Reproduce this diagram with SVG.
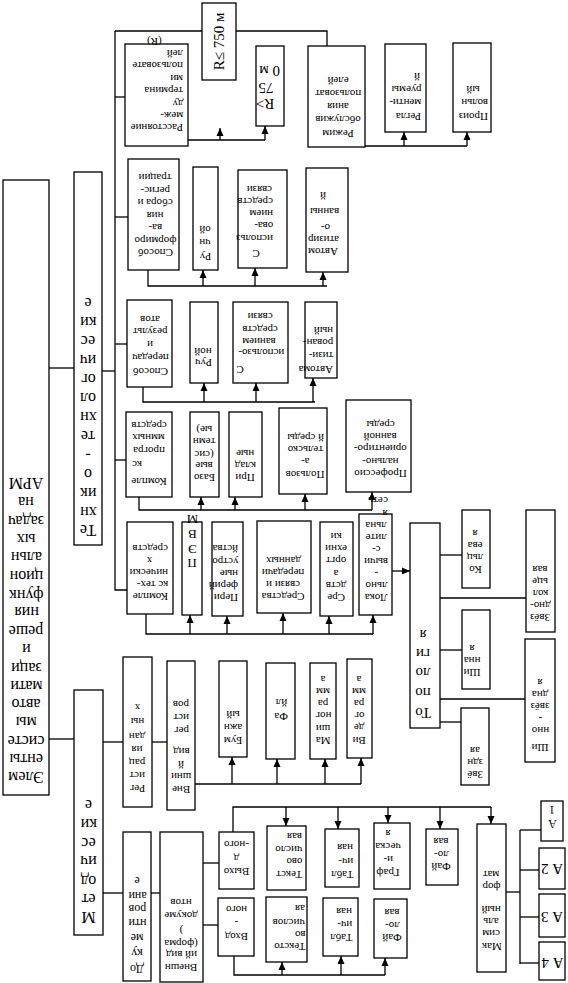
<svg xmlns="http://www.w3.org/2000/svg" width="568" height="983" viewBox="0 0 568 983">
<style>
rect{fill:#fff;stroke:#000;stroke-width:1.3}
.l path{fill:none;stroke:#000;stroke-width:1.3}
.l path.ar{marker-end:url(#a)}
text{font-family:"Liberation Serif","Times New Roman",serif;font-size:11px;fill:#000}
.t{transform-box:fill-box;transform-origin:50% 50%;transform:rotate(180deg)}
.c{text-anchor:middle}
.e{text-anchor:end}
.L{font-size:16px}
.M{font-size:15px}
.D{font-size:12px}
.P{font-size:13px}
</style>
<defs>
<marker id="a" markerWidth="8" markerHeight="8" refX="8" refY="4" orient="auto" markerUnits="userSpaceOnUse"><path d="M0,0.5 L8,4 L0,7.5 z" fill="#000"/></marker>
</defs>
<g id="connectors" class="l">
<path d="M49 368H74"/>
<path d="M49 739H74"/>
<path d="M102 371H115"/>
<path d="M115 31V590H127"/>
<path d="M115 31H202"/>
<path d="M236 31H327V46"/>
<path d="M115 97H125"/>
<path d="M188 140H265"/>
<path class="ar" d="M220 140V128"/>
<path class="ar" d="M265 140V126"/>
<path d="M365 146H467"/>
<path class="ar" d="M404 146V132"/>
<path class="ar" d="M467 146V132"/>
<path d="M115 217H128"/>
<path d="M148 270V286H327"/>
<path class="ar" d="M203 286V270"/>
<path class="ar" d="M255 286V268"/>
<path class="ar" d="M323 286V272"/>
<path d="M115 344H127"/>
<path d="M143 387V402H315"/>
<path class="ar" d="M204 402V383"/>
<path class="ar" d="M256 402V383"/>
<path class="ar" d="M313 402V378"/>
<path d="M115 460H126"/>
<path d="M139 497V510H372"/>
<path class="ar" d="M201 510V497"/>
<path class="ar" d="M235 510V497"/>
<path class="ar" d="M305 510V494"/>
<path class="ar" d="M372 510V492"/>
<path d="M146 614V634H373"/>
<path class="ar" d="M190 634V615"/>
<path class="ar" d="M227 634V616"/>
<path class="ar" d="M283 634V613"/>
<path class="ar" d="M329 634V616"/>
<path class="ar" d="M373 634V615"/>
<path class="ar" d="M392 571H410"/>
<path d="M440 555H462"/>
<path d="M440 598H526"/>
<path d="M440 650H462"/>
<path d="M440 699H525"/>
<path d="M440 722H461"/>
<path d="M103 742H123"/>
<path d="M152 742H167"/>
<path d="M195 784H361"/>
<path class="ar" d="M232 784V757"/>
<path class="ar" d="M277 784V759"/>
<path class="ar" d="M325 784V759"/>
<path class="ar" d="M361 784V758"/>
<path d="M103 893H123"/>
<path d="M151 893H160"/>
<path d="M203 863H219"/>
<path d="M203 925H218"/>
<path d="M233 832V807H491"/>
<path class="ar" d="M286 807V826"/>
<path class="ar" d="M338 807V829"/>
<path class="ar" d="M388 807V823"/>
<path class="ar" d="M440 807V829"/>
<path class="ar" d="M491 807V824"/>
<path d="M234 956V975H385"/>
<path class="ar" d="M282 975V962"/>
<path class="ar" d="M341 975V956"/>
<path class="ar" d="M385 975V958"/>
<path d="M506 892H520"/>
<path d="M520 830V964"/>
<path d="M520 830H541"/>
<path d="M520 870H539"/>
<path d="M520 917H539"/>
<path d="M520 963H539"/>
</g>
<g id="n-root"><rect x="3" y="180" width="46" height="615"/>
<text class="t c L" x="26" y="783.4">Элем</text><text class="t c L" x="26" y="765">енты</text><text class="t c L" x="26" y="746.7">систе</text><text class="t c L" x="26" y="728.3">мы</text><text class="t c L" x="26" y="709.9">авто</text><text class="t c L" x="26" y="691.5">мати</text><text class="t c L" x="26" y="673.2">заци</text><text class="t c L" x="26" y="654.8">и</text><text class="t c L" x="26" y="636.4">реше</text><text class="t c L" x="26" y="618">ния</text><text class="t c L" x="26" y="599.7">функ</text><text class="t c L" x="26" y="581.3">цион</text><text class="t c L" x="26" y="562.9">альн</text><text class="t c L" x="26" y="544.5">ых</text><text class="t c L" x="26" y="526.2">задач</text><text class="t c L" x="26" y="507.8">на</text><text class="t c L" x="26" y="489.4">АРМ</text>
</g>
<g id="n-tech"><rect x="74" y="172" width="28" height="373"/>
<text class="t c L" x="88" y="536.4">Те</text><text class="t c L" x="88" y="517.5">хн</text><text class="t c L" x="88" y="498.6">ик</text><text class="t c L" x="88" y="479.7">о</text><text class="t c L" x="88" y="460.7">-</text><text class="t c L" x="88" y="441.8">те</text><text class="t c L" x="88" y="422.9">хн</text><text class="t c L" x="88" y="404">ол</text><text class="t c L" x="88" y="385.1">ог</text><text class="t c L" x="88" y="366.2">ич</text><text class="t c L" x="88" y="347.2">ес</text><text class="t c L" x="88" y="328.3">ки</text><text class="t c L" x="88" y="309.4">е</text>
</g>
<g id="n-metod"><rect x="74" y="690" width="29" height="245"/>
<text class="t c L" x="88.5" y="923.4">М</text><text class="t c L" x="88.5" y="904.7">ет</text><text class="t c L" x="88.5" y="886.1">од</text><text class="t c L" x="88.5" y="867.4">ич</text><text class="t c L" x="88.5" y="848.7">ес</text><text class="t c L" x="88.5" y="830.1">ки</text><text class="t c L" x="88.5" y="811.4">е</text>
</g>
<g id="n-rasst"><rect x="125" y="44" width="63" height="102"/>
<text class="t e" x="183" y="132.4">Расстояние</text><text class="t e" x="183" y="120">меж-</text><text class="t e" x="183" y="107.5">ду</text><text class="t e" x="183" y="95.1">термина</text><text class="t e" x="183" y="82.7">ми</text><text class="t e" x="183" y="70.3">пользовате</text><text class="t e" x="183" y="57.8">лей</text><text class="t c" x="154" y="45.4">(R)</text>
</g>
<g id="n-r750"><rect x="202" y="3" width="34" height="77"/>
<text class="c M" transform="translate(224,41.5) rotate(-90)">R≤ 750 м</text>
</g>
<g id="n-rgt750"><rect x="256" y="46" width="28" height="80"/>
<text class="t c M" x="265" y="109">R&gt;</text><text class="t c M" x="266" y="93">75</text><text class="t c M" x="269" y="76">0 м</text>
</g>
<g id="n-rezhim"><rect x="308" y="46" width="57" height="101"/>
<text class="t c" x="338" y="138.4">Режим</text><text class="t c" x="338" y="124.4">обслужив</text><text class="t c" x="338" y="111.4">ания</text><text class="t c" x="338" y="98.4">пользоват</text><text class="t c" x="338" y="85.4">елей</text>
</g>
<g id="n-reglam"><rect x="385" y="44" width="41" height="88"/>
<text class="t e" x="421" y="121.4">Регла</text><text class="t e" x="421" y="107.4">менти-</text><text class="t e" x="421" y="94.4">руемы</text><text class="t e" x="420" y="81.4">й</text>
</g>
<g id="n-proizv"><rect x="453" y="43" width="38" height="89"/>
<text class="t e" x="488" y="121.4">Произ</text><text class="t e" x="488" y="107.4">вольн</text><text class="t c" x="473" y="94.4">ый</text>
</g>
<g id="n-sposob-form"><rect x="128" y="159" width="51" height="111"/>
<text class="t c" x="155" y="257.4">Способ</text><text class="t c" x="155" y="244.9">формиро</text><text class="t c" x="155" y="232.4">ва-</text><text class="t c" x="155" y="219.9">ния</text><text class="t c" x="155" y="207.4">сбора и</text><text class="t c" x="155" y="194.9">регис-</text><text class="t c" x="155" y="182.4">трации</text>
</g>
<g id="n-ruch1"><rect x="193" y="167" width="25" height="103"/>
<text class="t c" x="205" y="261.4">Ру</text><text class="t c" x="205" y="247.4">чн</text><text class="t c" x="205" y="234.4">ой</text>
</g>
<g id="n-sv1"><rect x="238" y="170" width="49" height="98"/>
<text class="t c" x="256" y="258.4">С</text><text class="t e" x="273" y="243.4">использ</text><text class="t e" x="273" y="230.4">ова-</text><text class="t e" x="273" y="218.4">нием</text><text class="t e" x="273" y="206.4">средств</text><text class="t e" x="272" y="194.4">связи</text>
</g>
<g id="n-avt1"><rect x="306" y="168" width="42" height="104"/>
<text class="t c" x="323" y="256.4">Автом</text><text class="t c" x="323" y="244.4">атизир</text><text class="t c" x="325" y="232.4">о-</text><text class="t c" x="324" y="216.4">ванны</text><text class="t c" x="323" y="200.4">й</text>
</g>
<g id="n-sposob-per"><rect x="127" y="300" width="45" height="87"/>
<text class="t c" x="150" y="376.4">Способ</text><text class="t c" x="150" y="362.4">передач</text><text class="t c" x="150" y="349.4">и</text><text class="t c" x="150" y="336.4">результ</text><text class="t c" x="150" y="324.4">атов</text>
</g>
<g id="n-ruch2"><rect x="190" y="302" width="28" height="81"/>
<text class="t c" x="203" y="367.4">Руч</text><text class="t c" x="203" y="356.4">ной</text>
</g>
<g id="n-sv2"><rect x="233" y="302" width="55" height="81"/>
<text class="t c" x="240" y="374.4">С</text><text class="t c" x="261" y="357.4">использо-</text><text class="t c" x="259" y="346.4">ванием</text><text class="t c" x="260" y="334.4">средств</text><text class="t c" x="260" y="321.4">связи</text>
</g>
<g id="n-avt2"><rect x="305" y="302" width="32" height="76"/>
<text class="t e" x="333" y="374.4">Автома</text><text class="t e" x="333" y="360.4">тизи-</text><text class="t e" x="333" y="347.4">рован-</text><text class="t e" x="333" y="335.4">ный</text>
</g>
<g id="n-kps"><rect x="126" y="412" width="46" height="85"/>
<text class="t c" x="149" y="486.4">Компле</text><text class="t c" x="137" y="469.4">кс</text><text class="t c" x="149" y="455.4">програ</text><text class="t c" x="148" y="442.4">ммных</text><text class="t c" x="149" y="430">средств</text>
</g>
<g id="n-baz"><rect x="190" y="412" width="29" height="85"/>
<text class="t c" x="204" y="482.4">Базо</text><text class="t c" x="204" y="470.1">вые</text><text class="t c" x="204" y="457.8">(сис</text><text class="t c" x="204" y="445.5">темн</text><text class="t c" x="204" y="433.2">ые)</text>
</g>
<g id="n-prikl"><rect x="229" y="412" width="33" height="85"/>
<text class="t c" x="245" y="482.4">При</text><text class="t c" x="245" y="470.4">клад</text><text class="t c" x="245" y="458.4">ные</text>
</g>
<g id="n-polz"><rect x="279" y="408" width="48" height="86"/>
<text class="t c" x="305" y="479.4">Пользов</text><text class="t c" x="305" y="466.4">а-</text><text class="t c" x="305" y="454.4">тельско</text><text class="t c" x="305" y="442.4">й среды</text>
</g>
<g id="n-prof"><rect x="346" y="400" width="65" height="92"/>
<text class="t c" x="380" y="478.4">Профессио</text><text class="t c" x="380" y="466.4">нально-</text><text class="t c" x="380" y="453.4">ориентиро-</text><text class="t c" x="380" y="441.4">ванной</text><text class="t c" x="380" y="429.4">среды</text>
</g>
<g id="n-kts"><rect x="127" y="522" width="46" height="92"/>
<text class="t e" x="168" y="601.4">Компле</text><text class="t e" x="168" y="589.4">кс тех-</text><text class="t e" x="168" y="577.4">нически</text><text class="t c" x="149" y="565.4">х</text><text class="t e" x="168" y="553.4">средств</text>
</g>
<g id="n-pevm"><rect x="182" y="522" width="20" height="93"/>
<text class="t c P" x="192" y="568.2">П</text><text class="t c P" x="192" y="553.5">Э</text><text class="t c P" x="192" y="538.9">В</text><text class="t c P" x="192" y="524.2">М</text>
</g>
<g id="n-perif"><rect x="212" y="522" width="31" height="94"/>
<text class="t e" x="238" y="602.4">Пери</text><text class="t e" x="238" y="590.4">ферий</text><text class="t e" x="238" y="578.4">ные</text><text class="t e" x="238" y="566.4">устро</text><text class="t e" x="238" y="553.4">йства</text>
</g>
<g id="n-svyaz"><rect x="257" y="521" width="54" height="92"/>
<text class="t c" x="283" y="601.4">Средства</text><text class="t c" x="283" y="589.4">связи и</text><text class="t c" x="283" y="577.4">передачи</text><text class="t c" x="283" y="565.4">данных</text>
</g>
<g id="n-orgt"><rect x="320" y="522" width="33" height="94"/>
<text class="t c" x="336" y="602.4">Сре</text><text class="t c" x="336" y="590.4">дств</text><text class="t c" x="336" y="578.4">а</text><text class="t c" x="336" y="565.4">оргт</text><text class="t c" x="336" y="553.4">ехни</text><text class="t c" x="336" y="541.4">ки</text>
</g>
<g id="n-lvs"><rect x="359" y="514" width="33" height="101"/>
<text class="t c" x="376" y="602.4">Лока</text><text class="t c" x="376" y="590.4">льно</text><text class="t c" x="376" y="578.4">-</text><text class="t c" x="376" y="566.4">вычи</text><text class="t c" x="376" y="554.4">с-</text><text class="t c" x="376" y="542.4">лите</text><text class="t c" x="376" y="530.4">льна</text><text class="t c" x="385" y="518.4">я</text><text class="t c" x="378" y="505.4">сеть</text>
</g>
<g id="n-topol"><rect x="410" y="523" width="30" height="205"/>
<text class="t c M" x="423" y="718">То</text><text class="t c M" x="423" y="698">по</text><text class="t c M" x="423" y="678">ло</text><text class="t c M" x="423" y="659">ги</text><text class="t c M" x="423" y="640">я</text>
</g>
<g id="n-kolc"><rect x="462" y="510" width="28" height="78"/>
<text class="t c" x="475" y="574.4">Ко</text><text class="t c" x="475" y="562.4">льц</text><text class="t c" x="475" y="550.4">ева</text><text class="t c" x="475" y="538.4">я</text>
</g>
<g id="n-zvkolc"><rect x="526" y="510" width="29" height="122"/>
<text class="t c" x="540" y="622.4">Звёз</text><text class="t c" x="540" y="610.4">дно-</text><text class="t c" x="540" y="598.4">кол</text><text class="t c" x="540" y="586.4">ьце</text><text class="t c" x="540" y="574.4">вая</text>
</g>
<g id="n-shin"><rect x="462" y="610" width="28" height="79"/>
<text class="t c" x="472" y="677.4">Ши</text><text class="t c" x="472" y="665.4">нна</text><text class="t c" x="472" y="653.4">я</text>
</g>
<g id="n-shinzv"><rect x="525" y="639" width="30" height="123"/>
<text class="t c" x="540" y="752.4">Ши</text><text class="t c" x="540" y="735.4">нно</text><text class="t c" x="540" y="723.4">-</text><text class="t c" x="540" y="711.4">звёз</text><text class="t c" x="540" y="699.4">дна</text><text class="t c" x="540" y="687.4">я</text>
</g>
<g id="n-zv"><rect x="461" y="708" width="28" height="77"/>
<text class="t c" x="475" y="779.4">Звё</text><text class="t c" x="475" y="767.4">здн</text><text class="t c" x="475" y="755.4">ая</text>
</g>
<g id="n-regdan"><rect x="123" y="657" width="29" height="150"/>
<text class="t c" x="137" y="793.4">Рег</text><text class="t c" x="137" y="780.4">ист</text><text class="t c" x="137" y="767.4">рац</text><text class="t c" x="137" y="754.4">ия</text><text class="t c" x="137" y="741.4">дан</text><text class="t c" x="137" y="726.4">ны</text><text class="t c" x="137" y="712.4">х</text>
</g>
<g id="n-vidreg"><rect x="167" y="661" width="28" height="149"/>
<text class="t c" x="181" y="794.4">Вне</text><text class="t c" x="181" y="781.4">шни</text><text class="t c" x="181" y="769">й</text><text class="t c" x="181" y="756.4">вид</text><text class="t c" x="181" y="735.4">рег</text><text class="t c" x="181" y="722.4">ист</text><text class="t c" x="181" y="709.4">ров</text>
</g>
<g id="n-bum"><rect x="219" y="661" width="28" height="96"/>
<text class="t c" x="233" y="745.4">Бум</text><text class="t c" x="233" y="732.4">ажн</text><text class="t c" x="233" y="719.4">ый</text>
</g>
<g id="n-fail1"><rect x="266" y="663" width="29" height="96"/>
<text class="t c" x="281" y="721.4">Фа</text><text class="t c" x="281" y="707.4">йл</text>
</g>
<g id="n-mash"><rect x="310" y="663" width="26" height="96"/>
<text class="t c" x="323" y="745.4">Ма</text><text class="t c" x="323" y="733.4">ши</text><text class="t c" x="323" y="720.4">ног</text><text class="t c" x="323" y="708.4">ра</text><text class="t c" x="323" y="696.4">мм</text><text class="t c" x="323" y="684.4">а</text>
</g>
<g id="n-video"><rect x="347" y="659" width="25" height="99"/>
<text class="t c" x="359" y="745.4">Ви</text><text class="t c" x="359" y="732.4">де</text><text class="t c" x="359" y="720.4">ог</text><text class="t c" x="359" y="708.4">ра</text><text class="t c" x="359" y="696.4">мм</text><text class="t c" x="359" y="684.4">а</text>
</g>
<g id="n-dok"><rect x="123" y="832" width="28" height="149"/>
<text class="t c D" x="137" y="972.8">До</text><text class="t c D" x="137" y="956.8">ку</text><text class="t c D" x="137" y="941.8">ме</text><text class="t c D" x="137" y="926.8">нти</text><text class="t c D" x="137" y="912.8">ров</text><text class="t c D" x="137" y="899.8">ани</text><text class="t c D" x="137" y="884.8">е</text>
</g>
<g id="n-vidfd"><rect x="160" y="832" width="43" height="150"/>
<text class="t c" x="181" y="972.4">Внешн</text><text class="t c" x="181" y="959.4">ий вид</text><text class="t c" x="181" y="947">(форма</text><text class="t c" x="181" y="934.4">)</text><text class="t c" x="181" y="920.4">докуме</text><text class="t c" x="181" y="907.4">нтов</text>
</g>
<g id="n-vyh"><rect x="219" y="832" width="35" height="57"/>
<text class="t c" x="236" y="876.4">Выхо</text><text class="t c" x="236" y="863.4">д</text><text class="t c" x="236" y="849.4">-ного</text>
</g>
<g id="n-vh"><rect x="218" y="898" width="36" height="58"/>
<text class="t c" x="236" y="941.4">Вход</text><text class="t c" x="236" y="927.4">-</text><text class="t c" x="236" y="914.4">ного</text>
</g>
<g id="n-text1"><rect x="267" y="826" width="39" height="64"/>
<text class="t e" x="302" y="879.4">Текст</text><text class="t e" x="302" y="866.4">ово</text><text class="t e" x="302" y="854">число</text><text class="t e" x="302" y="841.4">вая</text>
</g>
<g id="n-tabl1"><rect x="325" y="829" width="34" height="58"/>
<text class="t e" x="353" y="879.4">Табл</text><text class="t e" x="353" y="866.4">ич-</text><text class="t e" x="353" y="852.4">ная</text>
</g>
<g id="n-graf"><rect x="374" y="823" width="36" height="66"/>
<text class="t c" x="388" y="877.4">Граф</text><text class="t c" x="388" y="864.4">и-</text><text class="t c" x="388" y="851.4">ческа</text><text class="t c" x="388" y="838.4">я</text>
</g>
<g id="n-fail2"><rect x="426" y="829" width="32" height="56"/>
<text class="t c" x="441" y="871.4">Фай</text><text class="t c" x="441" y="859">ло-</text><text class="t c" x="441" y="846.4">вая</text>
</g>
<g id="n-maks"><rect x="477" y="824" width="29" height="148"/>
<text class="t c" x="491" y="951.4">Мак</text><text class="t c" x="491" y="938.4">сим</text><text class="t c" x="491" y="926">аль</text><text class="t c" x="491" y="913.6">ный</text><text class="t c" x="491" y="891.4">фор</text><text class="t c" x="491" y="879">мат</text>
</g>
<g id="n-text2"><rect x="266" y="897" width="41" height="65"/>
<text class="t e" x="305" y="951.4">Тексто</text><text class="t e" x="305" y="939">во</text><text class="t e" x="305" y="926.6">числов</text><text class="t e" x="305" y="913.4">ая</text>
</g>
<g id="n-tabl2"><rect x="323" y="898" width="35" height="58"/>
<text class="t e" x="352" y="942.4">Табл</text><text class="t e" x="352" y="929.4">ич-</text><text class="t e" x="352" y="916.4">ная</text>
</g>
<g id="n-fail3"><rect x="374" y="899" width="33" height="59"/>
<text class="t c" x="392" y="942.4">Фай</text><text class="t c" x="392" y="930">ло-</text><text class="t c" x="392" y="917.4">вая</text>
</g>
<g id="n-a1"><rect x="541" y="801" width="22" height="40"/>
<text class="t c D" x="552" y="828">А</text><text class="t c D" x="552" y="813.5">1</text>
</g>
<g id="n-a2"><rect x="539" y="848" width="26" height="41"/>
<text class="t c M" x="552" y="874">А 2</text>
</g>
<g id="n-a3"><rect x="539" y="894" width="26" height="43"/>
<text class="t c M" x="552" y="922">А 3</text>
</g>
<g id="n-a4"><rect x="539" y="942" width="26" height="38"/>
<text class="t c M" x="552" y="968">А 4</text>
</g>
</svg>
